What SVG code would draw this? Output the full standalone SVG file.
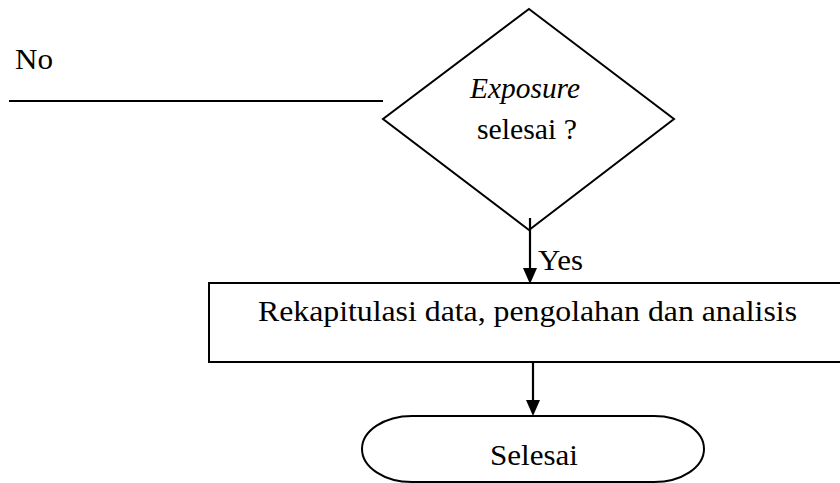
<svg xmlns="http://www.w3.org/2000/svg" width="840" height="483" viewBox="0 0 840 483">
<style>
.t{font-family:'Liberation Serif',serif;font-size:29px;fill:#000}
.s{fill:#fff;stroke:#000;stroke-width:2}
.c{stroke:#000;stroke-width:2.2;fill:none}
.h{fill:#000}
</style>
<rect width="840" height="483" fill="#fff"/>
<g id="decision">
<polygon class="s" stroke-width="1.6" points="529,9 674,119 529,230 383,119"/>
<text class="t" x="470" y="98" font-style="italic" textLength="110" lengthAdjust="spacingAndGlyphs">Exposure</text>
<text class="t" x="477" y="139" textLength="100" lengthAdjust="spacingAndGlyphs">selesai ?</text>
</g>
<g id="process">
<rect class="s" stroke-width="2.5" x="209" y="283" width="640" height="79"/>
<text class="t" x="258" y="321" textLength="539" lengthAdjust="spacingAndGlyphs">Rekapitulasi data, pengolahan dan analisis</text>
</g>
<g id="terminal">
<path class="s" d="M412,416 H654 A50,33 0 0 1 654,482 H412 A50,33 0 0 1 412,416 Z"/>
<text class="t" x="490" y="465" textLength="88" lengthAdjust="spacingAndGlyphs">Selesai</text>
</g>
<g id="connectors">
<line class="c" x1="9" y1="101" x2="383" y2="101"/>
<line class="c" x1="530" y1="218" x2="530" y2="270"/>
<path class="h" d="M523,268 L537,268 L530,284 Z"/>
<line class="c" x1="533" y1="362" x2="533" y2="402"/>
<path class="h" d="M526,400 L540,400 L533,416 Z"/>
<text class="t" x="15" y="69" textLength="38" lengthAdjust="spacingAndGlyphs">No</text>
<text class="t" x="538" y="270" textLength="45" lengthAdjust="spacingAndGlyphs">Yes</text>
</g>
</svg>
